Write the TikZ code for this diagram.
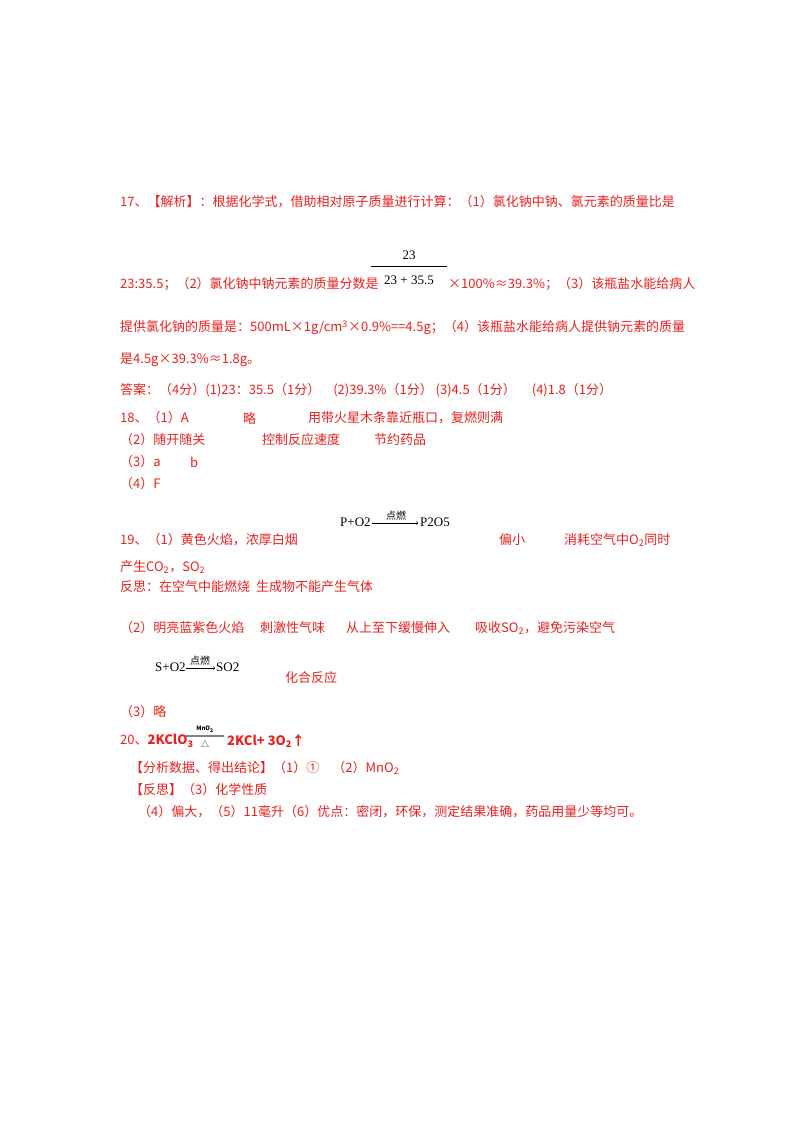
\documentclass[tikz,border=0pt]{standalone}
\usepackage{fontspec}
\setmainfont{Noto Sans CJK SC}
\newfontfamily\eqf{Liberation Serif}
\begin{document}
\begin{tikzpicture}[x=1pt,y=-1pt]
\definecolor{ans}{HTML}{E8201F}
\tikzset{t/.style={anchor=west,inner sep=0pt,text=ans,font=\fontsize{13}{15}\selectfont},
 tb/.style={t,font=\fontsize{13}{15}\selectfont\bfseries},
 eq/.style={anchor=west,inner sep=0pt,font=\fontsize{13}{15}\eqf}}
\useasboundingbox (0,0) rectangle (800,1132);
\node[t] (l1) at (120,202) {17、【解析】：根据化学式，借助相对原子质量进行计算：（1）氯化钠中钠、氯元素的质量比是};
\node[t] (l2) at (120,284) {23:35.5；（2）氯化钠中钠元素的质量分数是};
\node[eq,anchor=center] (num) at (409,255) {23};
\draw (371,266) -- (447,266);
\node[eq,anchor=center] (den) at (409,280) {23 + 35.5};
\node[t] (l2b) at (448,284) {×100\%≈39.3\%；（3）该瓶盐水能给病人};
\node[t] (l3) at (120,328) {提供氯化钠的质量是：500mL×1g/cm\textsuperscript{3}×0.9\%==4.5g；（4）该瓶盐水能给病人提供钠元素的质量};
\node[t] (l4) at (120,360) {是4.5g×39.3\%≈1.8g。};
\node[t] (l5) at (120,390) {答案：（4分）(1)23：35.5（1分）\quad (2)39.3\%（1分）\ (3)4.5（1分）\quad\ (4)1.8（1分）};
\node[t] (a1) at (120,418) {18、（1）A};
\node[t] (a1b) at (243,418) {略};
\node[t] (a1c) at (308,418) {用带火星木条靠近瓶口，复燃则满};
\node[t] (a2) at (120,440) {（2）随开随关};
\node[t] (a2b) at (262,440) {控制反应速度};
\node[t] (a2c) at (374,440) {节约药品};
\node[t] (a3) at (120,462) {（3）a};
\node[t] (a3b) at (190,462) {b};
\node[t] (a4) at (120,484) {（4）F};
\node[eq] (p1) at (340,522) {P+O2};
\node[eq] (p3) at (420,522) {P2O5};
\draw[->] (p1.east) ++(1,1) -- (418,523);
\node[anchor=south,inner sep=1pt,font=\fontsize{10}{11}\selectfont] at (396,521) {点燃};
\node[t] (b1) at (120,540) {19、（1）黄色火焰，浓厚白烟};
\node[t] (b1b) at (499,540) {偏小};
\node[t] (b1c) at (564,540) {消耗空气中O\textsubscript{2}同时};
\node[t] (b2) at (120,567) {产生CO\textsubscript{2}，SO\textsubscript{2}};
\node[t] (b3) at (120,587) {反思：在空气中能燃烧\ \ 生成物不能产生气体};
\node[t] (c1) at (120,628) {（2）明亮蓝紫色火焰};
\node[t] (c1b) at (260,628) {刺激性气味};
\node[t] (c1c) at (346,628) {从上至下缓慢伸入};
\node[t] (c1d) at (475,628) {吸收SO\textsubscript{2}，避免污染空气};
\node[eq] (s1) at (155,667) {S+O2};
\node[eq] (s3) at (216,667) {SO2};
\draw[->] (s1.east) ++(0,1) -- (215,668);
\node[anchor=south,inner sep=1pt,font=\fontsize{10}{11}\selectfont] at (200,666) {点燃};
\node[t] (c2) at (285,678) {化合反应};
\node[t] (c3) at (120,712) {（3）略};
\node[t] (d1) at (120,741) {20、\textbf{2KClO\textsubscript{3}}};
\draw[gray,line width=2.5pt] (186,736) -- (224,736);
\node[font=\fontsize{6}{7}\selectfont\bfseries] at (205,729) {MnO\textsubscript{2}};
\node[font=\fontsize{8}{9}\selectfont] at (205,744) {△};
\node[tb] (d2) at (227,741) {2KCl+ 3O\textsubscript{2}↑};
\node[t] (e1) at (130,768) {【分析数据、得出结论】（1）①\quad （2）MnO\textsubscript{2}};
\node[t] (e2) at (130,790) {【反思】（3）化学性质};
\node[t] (e3) at (138,812) {（4）偏大，（5）11毫升（6）优点：密闭，环保，测定结果准确，药品用量少等均可。};
\end{tikzpicture}
\end{document}
